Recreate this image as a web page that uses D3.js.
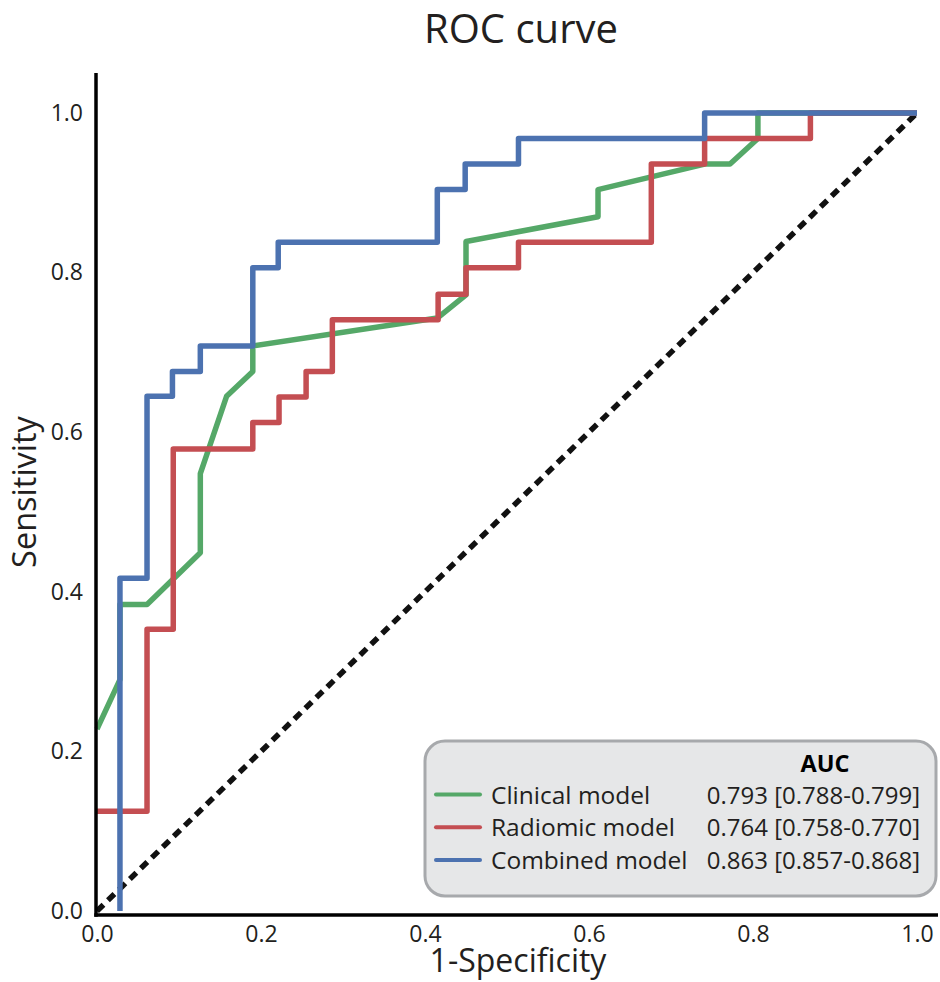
<!DOCTYPE html>
<html>
<head>
<meta charset="utf-8">
<script src="https://cdn.jsdelivr.net/npm/d3@7/dist/d3.min.js"></script>
<style>
  html, body { margin: 0; padding: 0; background: #fff; }
  svg { display: block; font-family: 'Open Sans', 'DejaVu Sans', sans-serif; }
</style>
</head>
<body>
<div id="chart-div"></div>
<script>
// ---- data ----
const modelNames = ['Clinical model', 'Radiomic model', 'Combined model'];
const aucLabels = ['0.793 [0.788-0.799]', '0.764 [0.758-0.770]', '0.863 [0.857-0.868]'];
const modelColors = ['#55A868', '#C44E52', '#4C72B0'];

const clinicalFpr = [0, 0.028, 0.028, 0.061, 0.126, 0.126, 0.158, 0.190, 0.190, 0.415, 0.450, 0.450, 0.611, 0.611, 0.741, 0.772, 0.806, 0.806, 1.0];
const clinicalTpr = [0.228, 0.290, 0.384, 0.384, 0.449, 0.548, 0.645, 0.676, 0.708, 0.743, 0.772, 0.839, 0.870, 0.904, 0.936, 0.936, 0.968, 1.0, 1.0];

const radiomicFpr = [0, 0.061, 0.061, 0.093, 0.093, 0.190, 0.190, 0.222, 0.222, 0.255, 0.255, 0.287, 0.287, 0.416, 0.416, 0.450, 0.450, 0.514, 0.514, 0.676, 0.676, 0.741, 0.741, 0.870, 0.870, 1.0];
const radiomicTpr = [0.125, 0.125, 0.353, 0.353, 0.579, 0.579, 0.612, 0.612, 0.644, 0.644, 0.676, 0.676, 0.741, 0.741, 0.773, 0.773, 0.806, 0.806, 0.838, 0.838, 0.936, 0.936, 0.968, 0.968, 1.0, 1.0];

const combinedFpr = [0.028, 0.028, 0.061, 0.061, 0.092, 0.092, 0.126, 0.126, 0.190, 0.190, 0.221, 0.221, 0.415, 0.415, 0.449, 0.449, 0.514, 0.514, 0.741, 0.741, 1.0];
const combinedTpr = [0, 0.417, 0.417, 0.645, 0.645, 0.676, 0.676, 0.708, 0.708, 0.806, 0.806, 0.838, 0.838, 0.904, 0.904, 0.936, 0.936, 0.968, 0.968, 1.0, 1.0];

const tickValues = [0, 0.2, 0.4, 0.6, 0.8, 1.0];
const chanceLine = [0, 1];


/**
 * @param {Array.<number>} xs
 * @param {Array.<number>} ys
 * @returns {Array.<Array.<number>>}
 */
const zipPoints = (xs, ys) => xs.map((v, i) => [v, ys[i]]);

const curves = [
  zipPoints(clinicalFpr, clinicalTpr),
  zipPoints(radiomicFpr, radiomicTpr),
  zipPoints(combinedFpr, combinedTpr)
];

const width = 940, height = 982;
const textColor = '#231f20';

const x = d3.scaleLinear().domain([0, 1]).range([97, 917]);
const y = d3.scaleLinear().domain([0, 1]).range([911, 113]);

const svg = d3.select('#chart-div').append('svg')
  .attr('width', width)
  .attr('height', height);

// title
svg.append('text')
  .attr('x', 521)
  .attr('y', 43)
  .attr('text-anchor', 'middle')
  .attr('font-size', 40)
  .attr('fill', textColor)
  .text('ROC curve');

// chance diagonal
const lineGen = d3.line().x(d => x(d[0])).y(d => y(d[1]));
svg.append('path')
  .attr('fill', 'none')
  .attr('stroke', '#111')
  .attr('stroke-width', 5.5)
  .attr('stroke-dasharray', '9,6.3')
  .attr('d', lineGen(zipPoints(chanceLine, chanceLine)));

// ROC curves: clinical below, combined on top
svg.append('g')
  .selectAll('path')
  .data(curves)
  .enter()
  .append('path')
  .attr('fill', 'none')
  .attr('stroke', (d, i) => modelColors[i])
  .attr('stroke-width', 5.5)
  .attr('stroke-linejoin', 'round')
  .attr('d', d => lineGen(d));

// tick labels only, spines drawn by hand
const xAxis = d3.axisBottom(x).tickValues(tickValues).tickSize(0)
  .tickFormat(d3.format('.1f'));
const yAxis = d3.axisLeft(y).tickValues(tickValues).tickSize(0).tickPadding(13)
  .tickFormat(d3.format('.1f'));

const gx = svg.append('g').attr('transform', 'translate(0,915)').call(xAxis);
const gy = svg.append('g').attr('transform', 'translate(96,0)').call(yAxis);
[gx, gy].forEach(g => {
  g.select('.domain').remove();
  g.selectAll('text')
    .attr('font-size', 23)
    .attr('font-family', "'Open Sans', sans-serif")
    .attr('fill', textColor);
});
gx.selectAll('text').attr('y', 27).attr('dy', 0);

svg.append('line')
  .attr('x1', 96).attr('x2', 96)
  .attr('y1', 73).attr('y2', 916.7)
  .attr('stroke', '#000').attr('stroke-width', 3.5);
svg.append('line')
  .attr('x1', 94.3).attr('x2', 938)
  .attr('y1', 915).attr('y2', 915)
  .attr('stroke', '#000').attr('stroke-width', 3.5);

// axis labels
svg.append('text')
  .attr('x', 518)
  .attr('y', 972)
  .attr('text-anchor', 'middle')
  .attr('font-size', 32)
  .attr('fill', textColor)
  .text('1-Specificity');

svg.append('text')
  .attr('transform', 'translate(36,492) rotate(-90)')
  .attr('text-anchor', 'middle')
  .attr('font-size', 32.5)
  .attr('fill', textColor)
  .text('Sensitivity');

// legend box
const legend = svg.append('g');
legend.append('rect')
  .attr('x', 425)
  .attr('y', 741)
  .attr('width', 511)
  .attr('height', 155)
  .attr('rx', 20)
  .attr('fill', '#e6e7e8')
  .attr('stroke', '#a7a9ac')
  .attr('stroke-width', 3);

legend.append('text')
  .attr('x', 825)
  .attr('y', 772)
  .attr('text-anchor', 'middle')
  .attr('font-size', 23.5)
  .attr('font-weight', 'bold')
  .attr('fill', '#000')
  .text('AUC');

const rows = legend.selectAll('g.row')
  .data(modelNames)
  .enter()
  .append('g')
  .attr('class', 'row')
  .attr('transform', (d, i) => `translate(0,${794.5 + i * 32.8})`);

rows.append('line')
  .attr('x1', 436).attr('x2', 480)
  .attr('stroke', (d, i) => modelColors[i])
  .attr('stroke-width', 4)
  .attr('stroke-linecap', 'round');

rows.append('text')
  .attr('x', 491)
  .attr('y', 9)
  .attr('font-size', 24.5)
  .attr('fill', textColor)
  .text(d => d);

rows.append('text')
  .attr('x', 920)
  .attr('y', 9)
  .attr('text-anchor', 'end')
  .attr('font-size', 24)
  .attr('fill', textColor)
  .text((d, i) => aucLabels[i]);
</script>
</body>
</html>
